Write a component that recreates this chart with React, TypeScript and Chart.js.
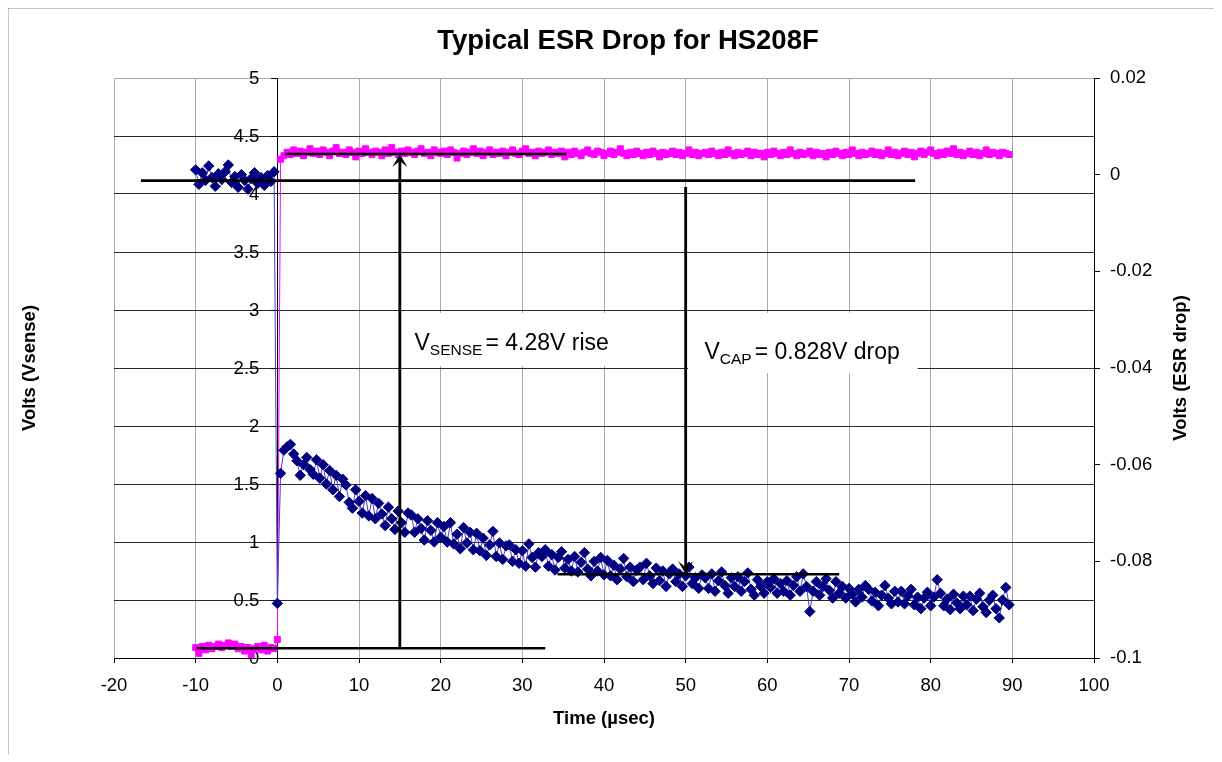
import React, { useEffect, useRef } from 'react';
import { Chart, registerables } from 'chart.js';

Chart.register(...registerables);

const TITLE = 'Typical ESR Drop for HS208F';
const X_TITLE = 'Time (µsec)';
const Y_TITLE = 'Volts (Vsense)';
const Y2_TITLE = 'Volts (ESR drop)';

// sampling grid of the scope capture (µs)
const T_START = -10;
const T_STEP = 0.4;

const X_TICKS = [-20, -10, 0, 10, 20, 30, 40, 50, 60, 70, 80, 90, 100];
const Y_TICKS = [0, 0.5, 1, 1.5, 2, 2.5, 3, 3.5, 4, 4.5, 5];
const Y_LABELS = ['0', '0.5', '1', '1.5', '2', '2.5', '3', '3.5', '4', '4.5', '5'];
const Y2_TICKS = [-0.1, -0.08, -0.06, -0.04, -0.02, 0, 0.02];
const Y2_LABELS = ['-0.1', '-0.08', '-0.06', '-0.04', '-0.02', '0', '0.02'];

// Vsense (left axis, V)
const VSENSE_BEFORE = [
  0.09, 0.04, 0.10, 0.07, 0.11, 0.08, 0.10, 0.12, 0.09, 0.11,
  0.13, 0.10, 0.12, 0.08, 0.10, 0.06, 0.09, 0.03, 0.08, 0.10,
  0.07, 0.11, 0.06, 0.09, 0.08,
];
const VSENSE_AT_STEP = [0.16];
const VSENSE_AFTER = [
  4.30, 4.33, 4.36, 4.34, 4.38, 4.35, 4.37, 4.33, 4.36, 4.39,
  4.35, 4.37, 4.34, 4.38, 4.36, 4.33, 4.37, 4.40, 4.35, 4.36,
  4.34, 4.38, 4.36, 4.32, 4.37, 4.35, 4.39, 4.36, 4.34, 4.37,
  4.36, 4.33, 4.38, 4.35, 4.40, 4.36, 4.34, 4.37, 4.35, 4.38,
  4.36, 4.34, 4.37, 4.39, 4.35, 4.36, 4.33, 4.38, 4.36, 4.35,
  4.37, 4.34, 4.38, 4.36, 4.31, 4.35, 4.37, 4.34, 4.36, 4.39,
  4.35, 4.37, 4.33, 4.36, 4.38, 4.34, 4.36, 4.35, 4.37, 4.33,
  4.36, 4.38, 4.35, 4.34, 4.37, 4.39, 4.35, 4.36, 4.33, 4.37,
  4.35, 4.36, 4.38, 4.34, 4.36, 4.35, 4.37, 4.32, 4.36, 4.34,
  4.37, 4.35, 4.33, 4.36, 4.38, 4.35, 4.34, 4.37, 4.36, 4.33,
  4.35, 4.37, 4.34, 4.36, 4.39, 4.35, 4.33, 4.36, 4.34, 4.37,
  4.35, 4.33, 4.36, 4.34, 4.37, 4.35, 4.32, 4.36, 4.34, 4.35,
  4.37, 4.34, 4.36, 4.33, 4.35, 4.38, 4.34, 4.36, 4.33, 4.35,
  4.36, 4.34, 4.37, 4.35, 4.33, 4.36, 4.34, 4.38, 4.35, 4.33,
  4.36, 4.34, 4.35, 4.37, 4.33, 4.36, 4.34, 4.35, 4.32, 4.36,
  4.34, 4.37, 4.35, 4.33, 4.36, 4.34, 4.38, 4.35, 4.33, 4.36,
  4.34, 4.35, 4.37, 4.33, 4.36, 4.34, 4.35, 4.32, 4.36, 4.34,
  4.37, 4.35, 4.33, 4.36, 4.34, 4.38, 4.35, 4.33, 4.36, 4.34,
  4.35, 4.37, 4.34, 4.36, 4.33, 4.35, 4.38, 4.34, 4.36, 4.33,
  4.35, 4.37, 4.34, 4.36, 4.32, 4.35, 4.37, 4.34, 4.36, 4.38,
  4.35, 4.33, 4.36, 4.34, 4.37, 4.35, 4.39, 4.34, 4.36, 4.33,
  4.35, 4.37, 4.34, 4.36, 4.33, 4.35, 4.38, 4.34, 4.36, 4.35,
  4.33, 4.36, 4.35, 4.34,
];

// ESR drop (right axis, V)
const ESR_BEFORE = [
  0.0010, -0.0020, 0.0004, -0.0012, 0.0018, -0.0006, -0.0024, 0.0002, -0.0010, 0.0006,
  0.0020, -0.0016, -0.0004, -0.0026, 0.0000, -0.0012, -0.0030, -0.0008, 0.0004, -0.0018,
  -0.0006, -0.0022, -0.0002, -0.0014, 0.0006,
];
const ESR_AT_STEP = [-0.0887];
const ESR_AFTER = [
  -0.0618, -0.0570, -0.0563, -0.0558, -0.0578, -0.0592, -0.0622, -0.0600, -0.0585, -0.0610,
  -0.0620, -0.0590, -0.0628, -0.0600, -0.0640, -0.0612, -0.0652, -0.0622, -0.0666, -0.0630,
  -0.0642, -0.0678, -0.0690, -0.0652, -0.0676, -0.0700, -0.0664, -0.0706, -0.0670, -0.0712,
  -0.0680, -0.0702, -0.0726, -0.0688, -0.0712, -0.0734, -0.0696, -0.0720, -0.0740, -0.0700,
  -0.0704, -0.0740, -0.0712, -0.0732, -0.0756, -0.0716, -0.0736, -0.0760, -0.0720, -0.0750,
  -0.0728, -0.0760, -0.0720, -0.0764, -0.0744, -0.0774, -0.0730, -0.0762, -0.0740, -0.0776,
  -0.0742, -0.0778, -0.0752, -0.0788, -0.0766, -0.0738, -0.0790, -0.0762, -0.0796, -0.0768,
  -0.0766, -0.0800, -0.0776, -0.0804, -0.0778, -0.0810, -0.0764, -0.0792, -0.0812, -0.0782,
  -0.0790, -0.0776, -0.0810, -0.0786, -0.0818, -0.0792, -0.0780, -0.0814, -0.0796, -0.0820,
  -0.0790, -0.0822, -0.0802, -0.0782, -0.0816, -0.0830, -0.0800, -0.0820, -0.0792, -0.0828,
  -0.0798, -0.0830, -0.0808, -0.0838, -0.0816, -0.0794, -0.0832, -0.0812, -0.0842, -0.0818,
  -0.0812, -0.0838, -0.0804, -0.0830, -0.0846, -0.0814, -0.0840, -0.0820, -0.0852, -0.0826,
  -0.0816, -0.0842, -0.0826, -0.0852, -0.0830, -0.0812, -0.0846, -0.0834, -0.0856, -0.0828,
  -0.0834, -0.0856, -0.0826, -0.0862, -0.0840, -0.0822, -0.0850, -0.0866, -0.0834, -0.0852,
  -0.0832, -0.0862, -0.0842, -0.0824, -0.0858, -0.0870, -0.0838, -0.0852, -0.0866, -0.0842,
  -0.0854, -0.0836, -0.0866, -0.0846, -0.0862, -0.0840, -0.0870, -0.0850, -0.0832, -0.0862,
  -0.0826, -0.0852, -0.0904, -0.0862, -0.0842, -0.0870, -0.0852, -0.0836, -0.0860, -0.0876,
  -0.0842, -0.0866, -0.0852, -0.0876, -0.0856, -0.0868, -0.0884, -0.0858, -0.0874, -0.0850,
  -0.0858, -0.0882, -0.0864, -0.0892, -0.0870, -0.0850, -0.0876, -0.0888, -0.0862, -0.0884,
  -0.0862, -0.0888, -0.0872, -0.0858, -0.0890, -0.0874, -0.0898, -0.0876, -0.0864, -0.0892,
  -0.0874, -0.0838, -0.0866, -0.0892, -0.0878, -0.0900, -0.0868, -0.0886, -0.0898, -0.0872,
  -0.0890, -0.0872, -0.0902, -0.0878, -0.0866, -0.0894, -0.0906, -0.0880, -0.0870, -0.0898,
  -0.0917, -0.0880, -0.0854, -0.0890,
];

// drawn reference lines (time µs, Vsense V)
const REF_LINES = [
  { x1: -16.7, x2: 78.1, y: 4.115 },
  { x1: 0.98, x2: 35.4, y: 4.345 },
  { x1: -9.9, x2: 32.8, y: 0.084 },
  { x1: 34.3, x2: 68.8, y: 0.722 },
];
const ARROWS = [
  { x: 15, from: 0.084, to: 4.345 },
  { x: 50, from: 4.06, to: 0.722 },
];
const NOTES = [
  { main: 'V', sub: 'SENSE', rest: '= 4.28V rise', x: 16.8, y: 2.655, bx1: 15.3, bx2: 49.3, by1: 2.974, by2: 2.517 },
  { main: 'V', sub: 'CAP', rest: '= 0.828V drop', x: 52.3, y: 2.578, bx1: 50.3, bx2: 78.4, by1: 2.974, by2: 2.457 },
];

const FONT = '"Liberation Sans", Arial, sans-serif';

function toPoints(values: number[]) {
  return values.map((v, i) => ({ x: +(T_START + i * T_STEP).toFixed(2), y: v }));
}

const overlay = {
  id: 'overlay',
  beforeDatasetsDraw(chart: any) {
    const { ctx, scales } = chart;
    const xs = scales.x, ys = scales.y;
    ctx.save();
    ctx.fillStyle = '#ffffff';
    NOTES.forEach((n) => {
      const x1 = xs.getPixelForValue(n.bx1), x2 = xs.getPixelForValue(n.bx2);
      const y1 = ys.getPixelForValue(n.by1), y2 = ys.getPixelForValue(n.by2);
      ctx.fillRect(x1, y1, x2 - x1, y2 - y1);
    });
    // left axis labels (axis crosses at time 0)
    const ax = xs.getPixelForValue(0);
    ctx.fillStyle = '#000';
    ctx.font = `18.5px ${FONT}`;
    ctx.textAlign = 'right';
    ctx.textBaseline = 'middle';
    Y_TICKS.forEach((v, i) => {
      ctx.fillText(Y_LABELS[i], ax - 18, ys.getPixelForValue(v) + 1);
    });
    ctx.restore();
  },
  afterDatasetsDraw(chart: any) {
    const { ctx, scales } = chart;
    const xs = scales.x, ys = scales.y;
    ctx.save();
    ctx.strokeStyle = '#000';
    ctx.fillStyle = '#000';
    ctx.lineWidth = 2.6;
    REF_LINES.forEach((l) => {
      const y = ys.getPixelForValue(l.y);
      ctx.beginPath();
      ctx.moveTo(xs.getPixelForValue(l.x1), y);
      ctx.lineTo(xs.getPixelForValue(l.x2), y);
      ctx.stroke();
    });
    ARROWS.forEach((a) => {
      const x = xs.getPixelForValue(a.x);
      const y0 = ys.getPixelForValue(a.from);
      const yt = ys.getPixelForValue(a.to);
      const d = yt < y0 ? -1 : 1;
      ctx.lineWidth = 2.8;
      ctx.beginPath();
      ctx.moveTo(x, y0);
      ctx.lineTo(x, yt - d * 7);
      ctx.stroke();
      ctx.beginPath();
      ctx.moveTo(x, yt);
      ctx.lineTo(x - 7.5, yt - d * 13);
      ctx.lineTo(x, yt - d * 7);
      ctx.lineTo(x + 7.5, yt - d * 13);
      ctx.closePath();
      ctx.fill();
    });
    NOTES.forEach((n) => {
      let x = xs.getPixelForValue(n.x);
      const y = ys.getPixelForValue(n.y);
      ctx.textBaseline = 'alphabetic';
      ctx.textAlign = 'left';
      ctx.font = `23px ${FONT}`;
      ctx.fillText(n.main, x, y);
      x += ctx.measureText(n.main).width;
      ctx.font = `15.5px ${FONT}`;
      ctx.fillText(n.sub, x, y + 5);
      x += ctx.measureText(n.sub).width + 3;
      ctx.font = `23px ${FONT}`;
      ctx.fillText(n.rest, x, y);
    });
    ctx.restore();
  },
  afterDraw(chart: any) {
    const { ctx, chartArea } = chart;
    const midY = (chartArea.top + chartArea.bottom) / 2;
    ctx.save();
    // outer frame (top and left edges)
    ctx.strokeStyle = '#1a1a1a';
    ctx.lineWidth = 1.5;
    ctx.beginPath();
    ctx.moveTo(7.5, 762);
    ctx.lineTo(7.5, 7.5);
    ctx.lineTo(1222, 7.5);
    ctx.stroke();
    ctx.fillStyle = '#000';
    ctx.textAlign = 'center';
    ctx.textBaseline = 'middle';
    ctx.font = `bold 27.5px ${FONT}`;
    ctx.fillText(TITLE, 628, 41);
    ctx.font = `bold 18.5px ${FONT}`;
    ctx.save();
    ctx.translate(30, midY);
    ctx.rotate(-Math.PI / 2);
    ctx.fillText(Y_TITLE, 0, 0);
    ctx.restore();
    ctx.save();
    ctx.translate(1181, midY);
    ctx.rotate(-Math.PI / 2);
    ctx.fillText(Y2_TITLE, 0, 0);
    ctx.restore();
    ctx.restore();
  },
};

export default function App() {
  const ref = useRef<HTMLCanvasElement | null>(null);
  useEffect(() => {
    if (!ref.current) return;
    const tickFont = { family: FONT, size: 18.5 };
    const chart = new Chart(ref.current, {
      type: 'scatter',
      data: {
        datasets: [
          {
            label: 'ESR drop',
            data: toPoints([...ESR_BEFORE, ...ESR_AT_STEP, ...ESR_AFTER]),
            yAxisID: 'y2',
            showLine: true,
            borderColor: '#4a3cc8',
            borderWidth: 1,
            pointStyle: 'rectRot',
            pointRadius: 5.2,
            pointBackgroundColor: '#000080',
            pointBorderColor: '#000080',
            pointBorderWidth: 1,
          },
          {
            label: 'Vsense',
            data: toPoints([...VSENSE_BEFORE, ...VSENSE_AT_STEP, ...VSENSE_AFTER]),
            yAxisID: 'y',
            showLine: true,
            borderColor: '#ff00ff',
            borderWidth: 1,
            pointStyle: 'rect',
            pointRadius: 4.2,
            pointBackgroundColor: '#ff00ff',
            pointBorderColor: '#ff00ff',
            pointBorderWidth: 1,
          },
        ],
      },
      options: {
        responsive: false,
        animation: false,
        layout: { padding: { top: 78, left: 114, right: 0, bottom: 0 } },
        plugins: {
          legend: { display: false },
          tooltip: { enabled: false },
          title: { display: false },
        },
        scales: {
          x: {
            type: 'linear',
            position: 'bottom',
            min: -20,
            max: 100,
            afterBuildTicks: (s: any) => { s.ticks = X_TICKS.map((v) => ({ value: v })); },
            afterFit: (s: any) => { s.height = 104; },
            ticks: { font: tickFont, color: '#000', padding: 12, maxRotation: 0, callback: (v: any) => String(v) },
            grid: { color: '#a8a8a8', lineWidth: 1, tickLength: 5, tickColor: '#000' },
            border: { color: '#000', width: 1 },
            title: { display: true, text: X_TITLE, color: '#000', font: { family: FONT, size: 18.5, weight: 'bold' }, padding: { top: 0, bottom: 32 } },
          },
          y: {
            type: 'linear',
            position: { x: 0 } as any,
            min: 0,
            max: 5,
            afterBuildTicks: (s: any) => { s.ticks = Y_TICKS.map((v) => ({ value: v })); },
            ticks: { display: false },
            grid: {
              color: (c: any) => (c.tick && c.tick.value === 5 ? '#a8a8a8' : '#2a2a2a'),
              lineWidth: 1,
              tickLength: 6,
              tickColor: '#000',
            },
            border: { color: '#000', width: 1 },
          },
          y2: {
            type: 'linear',
            position: 'right',
            min: -0.1,
            max: 0.02,
            afterBuildTicks: (s: any) => { s.ticks = Y2_TICKS.map((v) => ({ value: v })); },
            afterFit: (s: any) => { s.width = 128; },
            ticks: { font: tickFont, color: '#000', padding: 10, callback: (_v: any, i: number) => Y2_LABELS[i] },
            grid: { drawOnChartArea: false, tickLength: 6, tickColor: '#000' },
            border: { color: '#000', width: 1 },
          },
        },
      },
      plugins: [overlay],
    } as any);
    return () => chart.destroy();
  }, []);

  return (
    <div style={{ margin: -8, width: 1222, height: 762, overflow: 'hidden', background: '#fff' }}>
      <canvas ref={ref} width={1222} height={762} style={{ display: 'block' }} />
    </div>
  );
}
